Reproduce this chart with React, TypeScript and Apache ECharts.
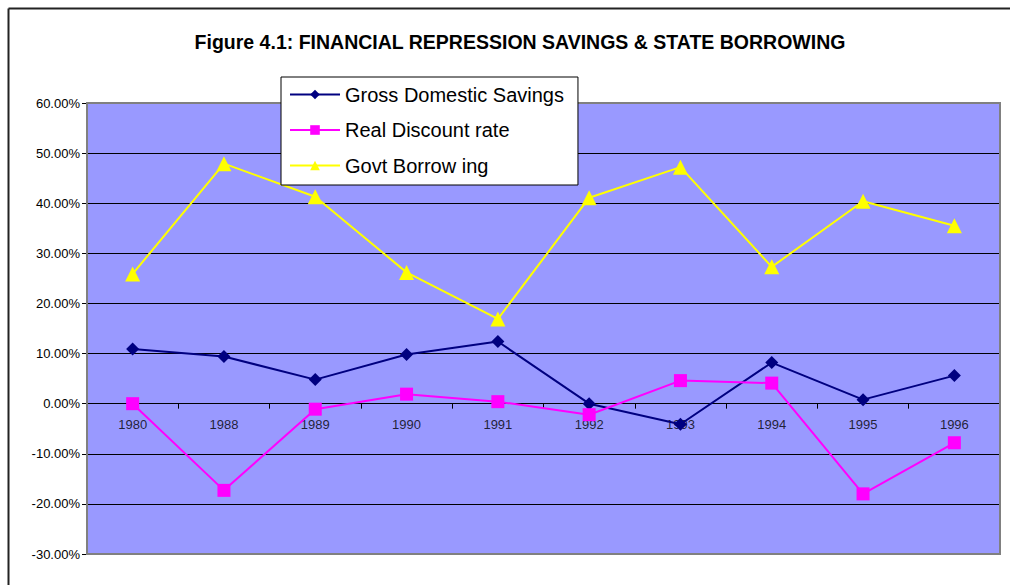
import React, { useEffect, useRef } from "react";
import * as echarts from "echarts";

const years = ["1980", "1988", "1989", "1990", "1991", "1992", "1993", "1994", "1995", "1996"];
const grossDomesticSavings = [10.9, 9.4, 4.8, 9.8, 12.4, 0.0, -4.1, 8.2, 0.8, 5.6];
const realDiscountRate = [0.0, -17.3, -1.1, 1.9, 0.4, -2.2, 4.6, 4.1, -18.0, -7.8];
const govtBorrowing = [25.9, 47.9, 41.3, 26.2, 16.9, 41.1, 47.2, 27.3, 40.4, 35.5];
const seriesNames = ["Gross Domestic Savings", "Real Discount rate", "Govt Borrow ing"];
const titleText = "Figure 4.1: FINANCIAL REPRESSION SAVINGS & STATE BORROWING";

const FONT = "'Liberation Sans', Arial, sans-serif";

export default function App() {
  const ref = useRef<HTMLDivElement>(null);
  useEffect(() => {
    if (!ref.current) return;
    const chart = echarts.init(ref.current, null, { renderer: "svg" });
    const mk = (name: string, data: number[], color: string, symbol: string, size: number) => ({
      name,
      type: "line",
      data,
      symbol,
      symbolSize: size,
      lineStyle: { color, width: 2 },
      itemStyle: { color },
      z: 3,
    });
    chart.setOption({
      animation: false,
      backgroundColor: "#ffffff",
      textStyle: { fontFamily: FONT },
      title: {
        text: titleText,
        left: 515,
        textAlign: "center",
        top: 27,
        textStyle: { fontFamily: FONT, fontWeight: "bold", fontSize: 19.5, color: "#000" },
      },
      graphic: [
        {
          type: "line",
          shape: { x1: 8.5, y1: 8.5, x2: 1010, y2: 8.5 },
          style: { stroke: "#222", lineWidth: 2 },
          silent: true,
          z: 100,
        },
        {
          type: "line",
          shape: { x1: 8.5, y1: 8.5, x2: 8.5, y2: 585 },
          style: { stroke: "#222", lineWidth: 2 },
          silent: true,
          z: 100,
        },
        {
          type: "rect",
          shape: { x: 87, y: 103, width: 913, height: 451 },
          style: { fill: "none", stroke: "#808080", lineWidth: 2 },
          silent: true,
          z: 1,
        },
      ],
      legend: {
        orient: "vertical",
        left: 281,
        top: 77,
        padding: [6, 14, 8, 8],
        itemGap: 12.5,
        itemWidth: 50,
        itemHeight: 12,
        backgroundColor: "#ffffff",
        borderColor: "#000",
        borderWidth: 1,
        textStyle: { fontSize: 20, color: "#000", fontFamily: FONT, lineHeight: 23 },
        data: seriesNames,
        z: 10,
      },
      grid: { left: 87, right: 10, top: 103, bottom: 31, backgroundColor: "#9999FF", show: true, borderWidth: 0 },
      xAxis: {
        type: "category",
        data: years,
        boundaryGap: true,
        axisLine: { onZero: true, lineStyle: { color: "#000", width: 1 } },
        axisTick: { show: true, inside: false, length: 5, lineStyle: { color: "#000" } },
        axisLabel: { show: false },
        splitLine: { show: false },
      },
      yAxis: {
        type: "value",
        min: -30,
        max: 60,
        interval: 10,
        axisLine: { show: true, lineStyle: { color: "#000", width: 1 } },
        axisTick: { show: true, length: 5, lineStyle: { color: "#000" } },
        axisLabel: {
          fontSize: 13,
          color: "#000",
          margin: 7,
          fontFamily: FONT,
          formatter: (v: number) => v.toFixed(2) + "%",
        },
        splitLine: { show: true, lineStyle: { color: "#000", width: 1 } },
      },
      series: [
        {
          name: "year-labels",
          type: "scatter",
          data: years.map((y) => [y, 0]),
          symbolSize: 0,
          silent: true,
          z: 2,
          label: {
            show: true,
            position: "bottom",
            distance: 14,
            formatter: (p: any) => p.value[0],
            fontSize: 13,
            color: "#000",
            fontFamily: FONT,
          },
        },
        mk(seriesNames[0], grossDomesticSavings, "#000080", "diamond", 13),
        mk(seriesNames[1], realDiscountRate, "#FF00FF", "rect", 13),
        mk(seriesNames[2], govtBorrowing, "#FFFF00", "triangle", 15),
      ],
    });
    return () => chart.dispose();
  }, []);
  return (
    <div
      ref={ref}
      style={{ position: "fixed", left: 0, top: 0, width: 1010, height: 585 }}
    />
  );
}
